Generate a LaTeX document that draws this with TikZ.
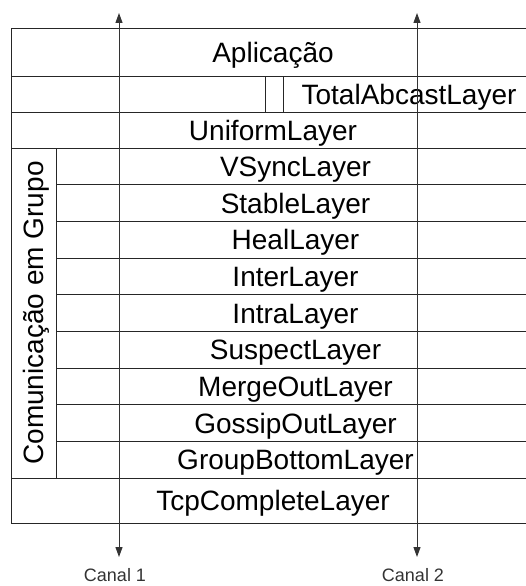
\documentclass[tikz,border=0pt]{standalone}
\usepackage{fontspec}
\setmainfont{Liberation Sans}
\usetikzlibrary{arrows.meta, positioning}

\tikzset{
  layer/.style={draw=black!85, line width=1pt, rectangle, inner sep=0pt, outer sep=0pt,
    anchor=north west, text height=20pt, text depth=0pt,
    font=\fontsize{28}{32}\selectfont},
  canal/.style={font=\fontsize{18}{22}\selectfont, text=black!80,
    text height=13pt, text depth=0pt, inner sep=0pt},
  channel/.style={draw=black!80, line width=1pt,
    {Triangle[length=10pt,width=7pt]}-{Triangle[length=10pt,width=7pt]}}
}

\begin{document}
\begin{tikzpicture}[x=1pt, y=-1pt]
\useasboundingbox (0,0) rectangle (526,586);

% camadas de cima
\node[layer, minimum width=524pt, minimum height=47pt] (aplic) at (11,29) {Aplicação};
\node[layer, minimum width=254pt, minimum height=36pt] (vazio) at (11,76) {};
\node[layer, minimum width=18pt, minimum height=36pt] (fenda) at (265,76) {};
\node[layer, minimum width=252pt, minimum height=36pt] (total) at (283,76) {TotalAbcastLayer};
\node[layer, minimum width=524pt, minimum height=36pt] (uniform) at (11,112) {UniformLayer};

% comunicacao em grupo
\node[layer, anchor=center, rotate=90, minimum width=330pt, minimum height=45pt] (grupo) at (33.5,313) {Comunicação em Grupo};
\foreach \nome [count=\i from 0] in {VSync,Stable,Heal,Inter,Intra,Suspect,MergeOut,GossipOut,GroupBottom}
  \node[layer, minimum width=479pt, minimum height=36.67pt] (\nome) at (56,{148+\i*36.67}) {\nome Layer};

% camada de baixo
\node[layer, minimum width=524pt, minimum height=45pt] (tcp) at (11,478) {TcpCompleteLayer};

% canais
\coordinate (c1top) at (119,13);
\coordinate (c1bot) at (119,557);
\coordinate (c2top) at (417,13);
\coordinate (c2bot) at (417,557);
\draw[channel] (c1bot) -- (c1top);
\draw[channel] (c2bot) -- (c2top);
\node[canal] (canal1) at (115,575) {Canal 1};
\node[canal] (canal2) at (413,575) {Canal 2};
\end{tikzpicture}
\end{document}
